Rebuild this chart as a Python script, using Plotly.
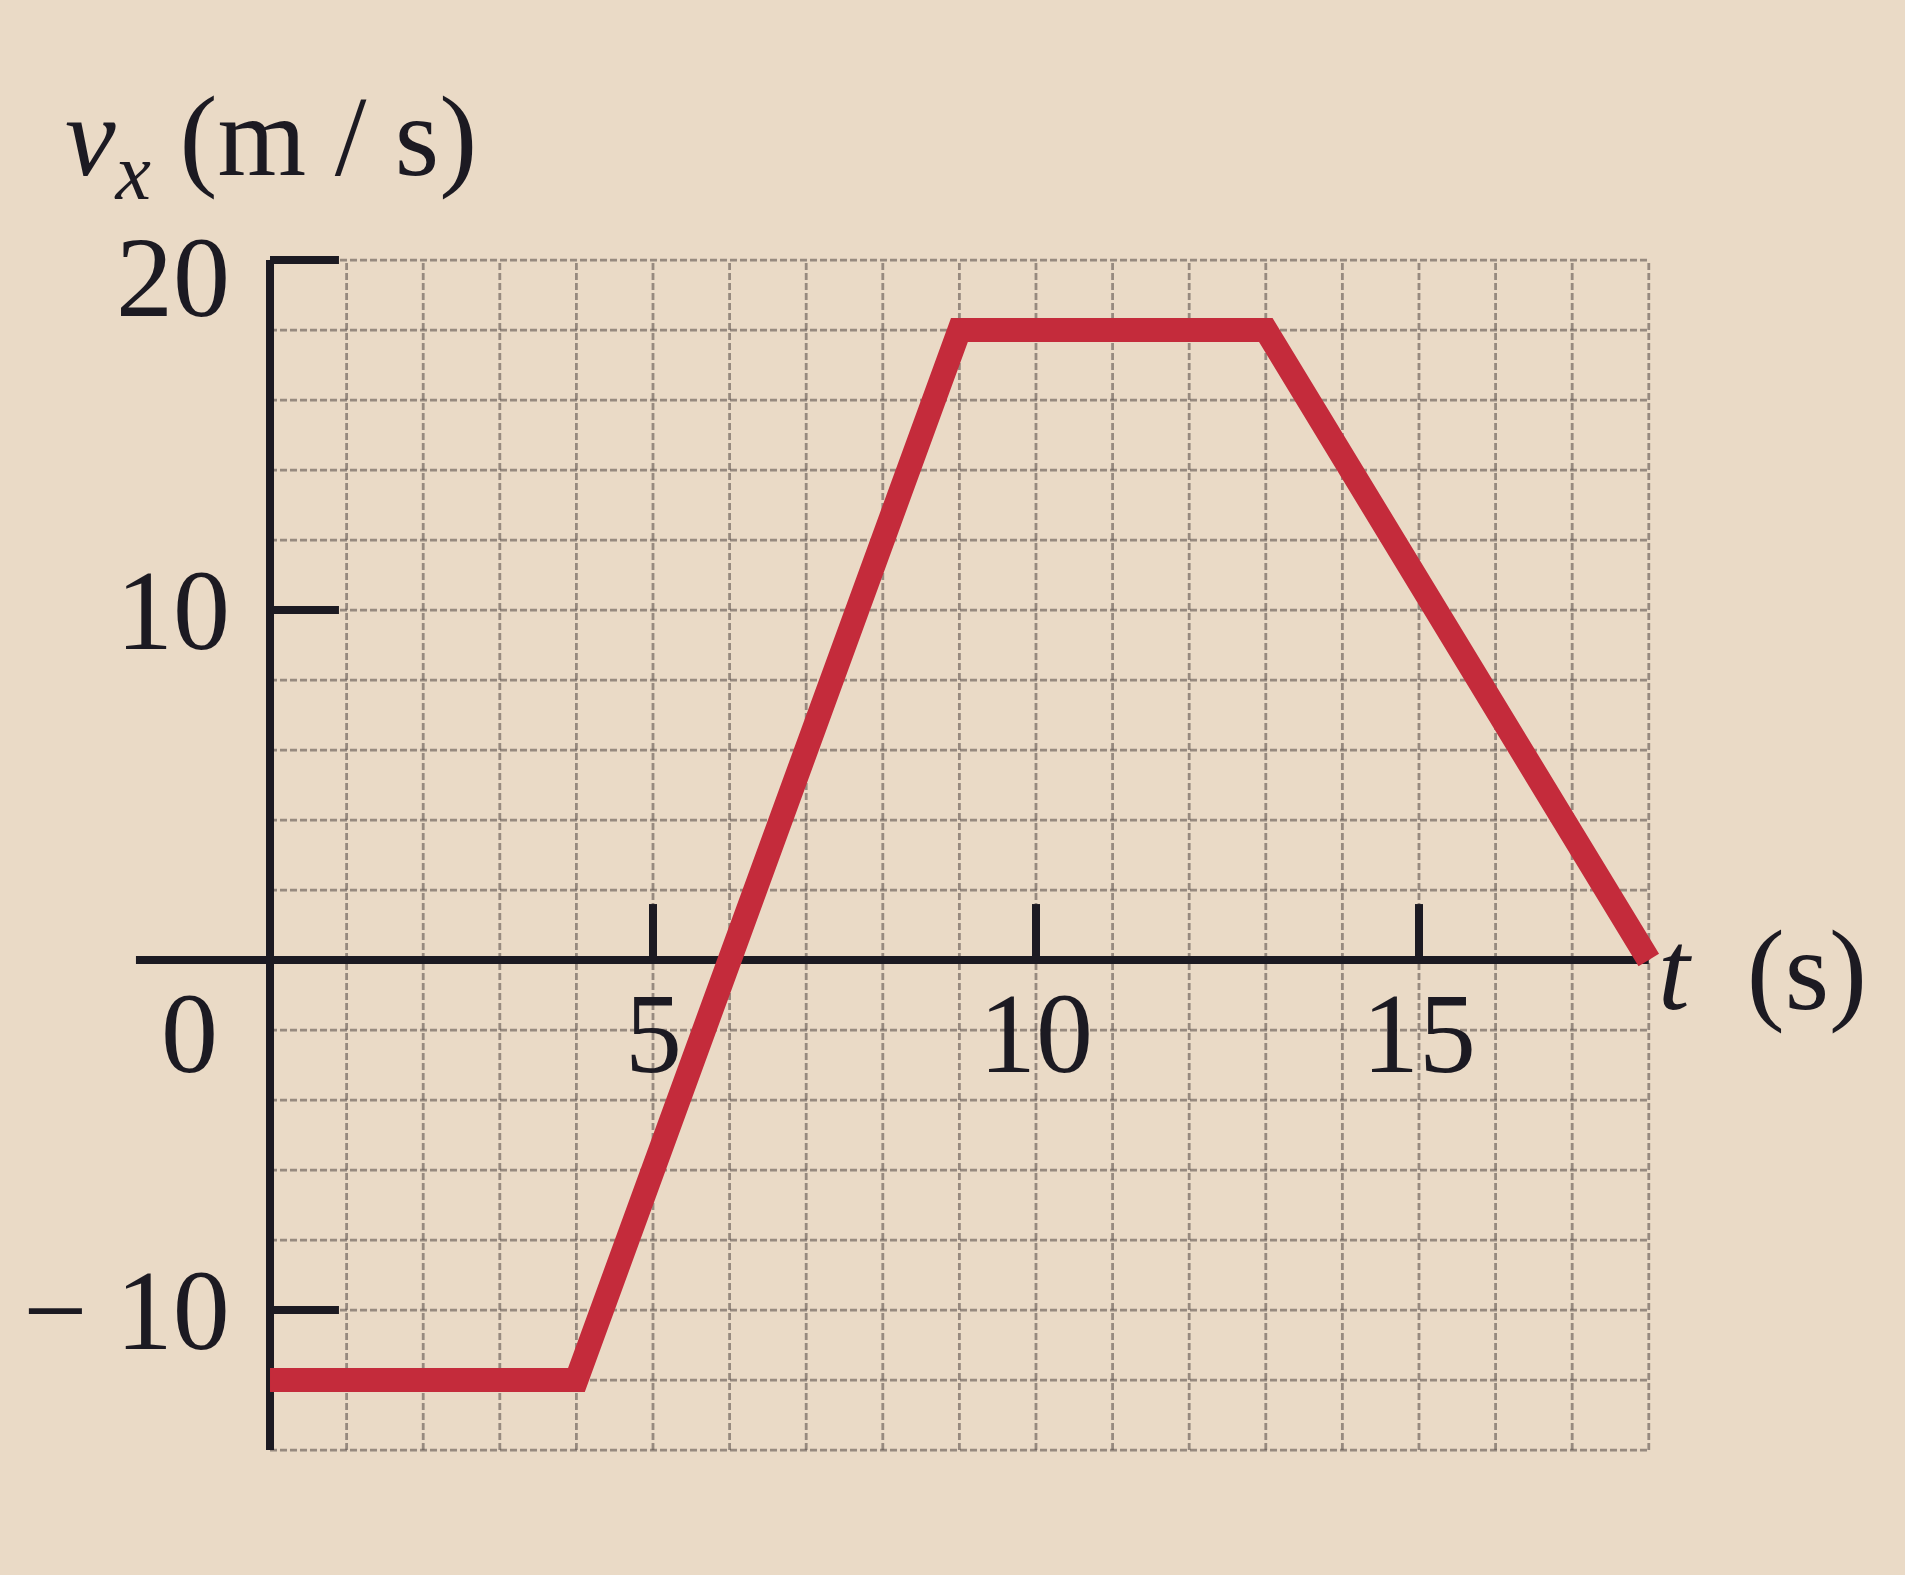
import plotly.graph_objects as go

# ---- data ----
t_s = [0, 4, 9, 13, 18]
vx_ms = [-12, -12, 18, 18, 0]

grid_t = list(range(1, 19))          # vertical grid lines (s)
grid_v = list(range(-14, 21, 2))     # horizontal grid lines (m/s)

y_ticks = [20, 10, -10]
y_tick_labels = ["20", "10", "0", "\u2212&nbsp;10"]
y_tick_label_vals = [20, 10, 0, -10]
x_ticks = [5, 10, 15]
x_tick_labels = ["5", "10", "15"]

T_MIN_AXIS, T_MAX = -1.75, 18
V_MIN, V_MAX = -14, 20

BG = "#eadac6"
INK = "#1c1a22"
SERIF = "Liberation Serif, Times New Roman, serif"
FS = 114

fig = go.Figure()

# grid (dashed)
gx, gy = [], []
for t in grid_t:
    gx += [t, t, None]
    gy += [V_MIN, V_MAX, None]
for v in grid_v:
    gx += [0, T_MAX, None]
    gy += [v, v, None]
fig.add_trace(go.Scatter(x=gx, y=gy, mode="lines",
                         line=dict(color="rgba(95,85,80,0.6)", width=2.8, dash="7px,3px"),
                         hoverinfo="skip", showlegend=False))

# axes
fig.add_trace(go.Scatter(x=[0, 0], y=[V_MIN, V_MAX], mode="lines",
                         line=dict(color=INK, width=8), hoverinfo="skip", showlegend=False))
fig.add_trace(go.Scatter(x=[T_MIN_AXIS, T_MAX], y=[0, 0], mode="lines",
                         line=dict(color=INK, width=8), hoverinfo="skip", showlegend=False))

# tick marks
tx, ty = [], []
for v in y_ticks:
    tx += [0, 0.9, None]
    ty += [v, v, None]
for t in x_ticks:
    tx += [t, t, None]
    ty += [0, 1.6, None]
fig.add_trace(go.Scatter(x=tx, y=ty, mode="lines",
                         line=dict(color=INK, width=8), hoverinfo="skip", showlegend=False))

# data line
fig.add_trace(go.Scatter(x=t_s, y=vx_ms, mode="lines",
                         line=dict(color="#c42b3b", width=24), showlegend=False))

# tick labels
for lab, v in zip(y_tick_labels, y_tick_label_vals):
    if v == 0:
        xx, yy = -0.65, -2.1
    elif v == 20:
        xx, yy = -0.5, 19.5
    else:
        xx, yy = -0.5, v
    fig.add_annotation(x=xx, y=yy, text=lab, showarrow=False,
                       xanchor="right", yanchor="middle",
                       font=dict(family=SERIF, size=FS, color=INK))
for lab, t in zip(x_tick_labels, x_ticks):
    fig.add_annotation(x=t, y=-2.1, text=lab, showarrow=False,
                       xanchor="center", yanchor="middle",
                       font=dict(family=SERIF, size=FS, color=INK))

# axis titles
fig.add_annotation(x=-2.7, y=23.3, text="<i>v</i><sub><i>x</i></sub> (m / s)", showarrow=False,
                   xanchor="left", yanchor="middle",
                   font=dict(family=SERIF, size=FS, color=INK))
fig.add_annotation(x=18.1, y=-0.3, text="<i>t</i>&nbsp;&nbsp;(s)", showarrow=False,
                   xanchor="left", yanchor="middle",
                   font=dict(family=SERIF, size=FS, color=INK))

fig.update_layout(
    width=1905, height=1575,
    margin=dict(l=0, r=0, t=0, b=0),
    paper_bgcolor=BG, plot_bgcolor=BG,
    xaxis=dict(range=[-3.525, 21.345], visible=False, fixedrange=True),
    yaxis=dict(range=[-17.57, 27.43], visible=False, fixedrange=True),
    showlegend=False,
)

fig.write_html(
    "out.html",
    config={"displayModeBar": False},
    post_script="document.body.style.margin='0';document.body.style.background='#eadac6';",
)
